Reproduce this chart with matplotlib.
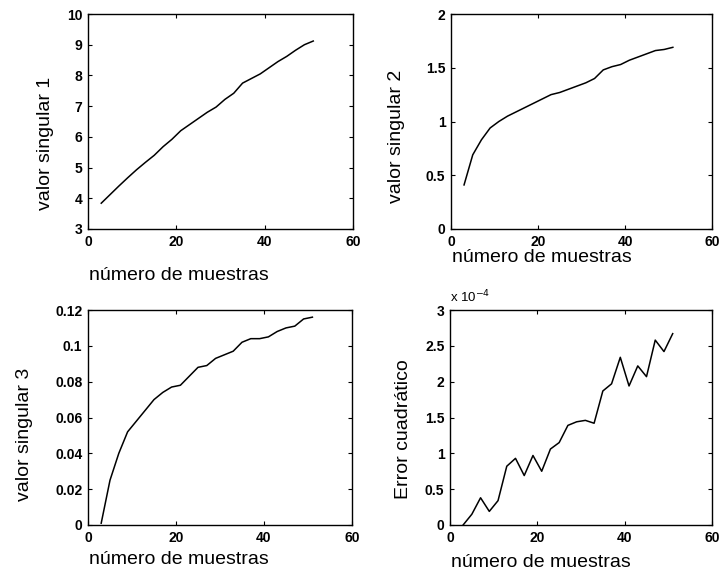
import numpy as np
import matplotlib.pyplot as plt
from matplotlib.ticker import FuncFormatter

plt.rcParams['font.family'] = ['Liberation Sans', 'DejaVu Sans']

# numero de muestras (odd samples 3..51)
muestras = [3, 5, 7, 9, 11, 13, 15, 17, 19, 21, 23, 25, 27,
            29, 31, 33, 35, 37, 39, 41, 43, 45, 47, 49, 51]

valor1 = [3.84, 4.12, 4.40, 4.67, 4.93, 5.17, 5.40, 5.68, 5.92, 6.20, 6.40, 6.60, 6.80,
          6.97, 7.22, 7.42, 7.75, 7.90, 8.05, 8.25, 8.45, 8.62, 8.82, 9.00, 9.12]

valor2 = [0.41, 0.69, 0.83, 0.94, 1.00, 1.05, 1.09, 1.13, 1.17, 1.21, 1.25, 1.27, 1.30,
          1.33, 1.36, 1.40, 1.48, 1.51, 1.53, 1.57, 1.60, 1.63, 1.66, 1.67, 1.69]

valor3 = [0.001, 0.025, 0.040, 0.052, 0.058, 0.064, 0.070, 0.074, 0.077, 0.078, 0.083, 0.088, 0.089,
          0.093, 0.095, 0.097, 0.102, 0.104, 0.104, 0.105, 0.108, 0.110, 0.111, 0.115, 0.116]

# error cuadratico, in units of 1e-4
error = [0.00, 0.15, 0.38, 0.19, 0.34, 0.82, 0.93, 0.69, 0.97, 0.75, 1.06, 1.15, 1.39,
         1.44, 1.46, 1.42, 1.87, 1.97, 2.34, 1.94, 2.22, 2.07, 2.58, 2.42, 2.67]
escala = 1e-4

xticks = [0, 20, 40, 60]

W, H = 719, 573
fig = plt.figure(figsize=(W / 100, H / 100), dpi=100)

def box(l, t, r, b):
    return [l / W, 1 - b / H, (r - l) / W, (b - t) / H]

# (axes box in px, x, y, ylim, yticks, ylabel, ylabel pos, xlabel top)
paneles = [
    (box(88, 14, 353, 229), muestras, valor1, (3, 10), np.arange(3, 11, 1),
     'valor singular 1', (-0.162, 0.40), -0.175),
    (box(451, 14, 712, 229), muestras, valor2, (0, 2), [0, 0.5, 1, 1.5, 2],
     'valor singular 2', (-0.207, 0.43), -0.095),
    (box(88, 310, 352, 525), muestras, valor3, (0, 0.12), [0, 0.02, 0.04, 0.06, 0.08, 0.1, 0.12],
     'valor singular 3', (-0.239, 0.42), -0.12),
    (box(450, 310, 712, 525), muestras, [e * escala for e in error], (0, 3e-4),
     [0, 0.5e-4, 1e-4, 1.5e-4, 2e-4, 2.5e-4, 3e-4],
     'Error cuadrático', (-0.179, 0.445), -0.135),
]

for i, (pos, x, y, ylim, yt, ylab, ylpos, xly) in enumerate(paneles):
    ax = fig.add_axes(pos)
    ax.plot(x, y, color='black', lw=1.1)
    ax.set_xlim(0, 60)
    ax.set_ylim(*ylim)
    ax.set_xticks(xticks)
    ax.set_yticks(yt)
    if i == 3:
        ax.yaxis.set_major_formatter(FuncFormatter(lambda v, p: '%g' % round(v / escala, 3)))
        ax.text(0.0, 1.02, 'x 10$^{-4}$', transform=ax.transAxes, fontsize=9.5,
                ha='left', va='bottom')
    else:
        ax.yaxis.set_major_formatter(FuncFormatter(lambda v, p: '%g' % round(v, 4)))
    ax.tick_params(direction='in', top=True, right=True, length=3, width=0.8,
                   labelsize=10, pad=4)
    for lbl in ax.get_xticklabels() + ax.get_yticklabels():
        lbl.set_fontweight('bold')
    for s in ax.spines.values():
        s.set_linewidth(1.0)
    ax.set_ylabel(ylab, fontsize=14)
    ax.yaxis.label.set_va('center')
    ax.yaxis.set_label_coords(*ylpos)
    ax.set_xlabel('número de muestras', fontsize=14)
    ax.xaxis.label.set_ha('left')
    ax.xaxis.label.set_va('top')
    ax.xaxis.set_label_coords(0.005, xly)

fig.savefig('out.png', dpi=100)
